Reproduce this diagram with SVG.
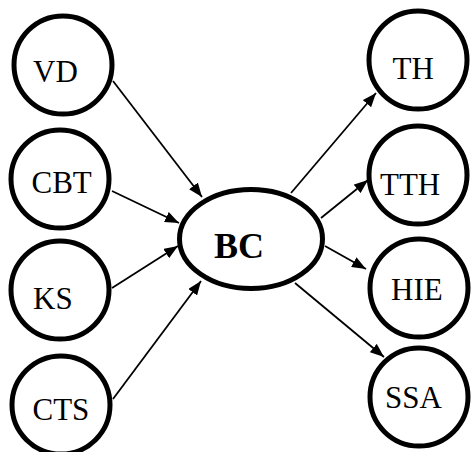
<svg xmlns="http://www.w3.org/2000/svg" width="472" height="452" viewBox="0 0 472 452">
<style>
.node{fill:#fff;stroke:#000;stroke-width:5}
.lbl{font-family:"Liberation Serif","Times New Roman",serif;font-size:31px;fill:#000}
.big{font-family:"Liberation Serif","Times New Roman",serif;font-size:36px;font-weight:bold;fill:#000}
.edge{stroke:#000;stroke-width:1.8;fill:none;marker-end:url(#ah)}
</style>
<defs>
<marker id="ah" markerUnits="userSpaceOnUse" markerWidth="15" markerHeight="11" refX="14" refY="5.5" orient="auto">
<path d="M0,0 L14,5.5 L0,11 z" fill="#000"/>
</marker>
</defs>
<rect width="472" height="452" fill="#fff"/>
<g id="connectors">
<line class="edge" x1="113" y1="81" x2="202" y2="197"/>
<line class="edge" x1="112" y1="191" x2="179" y2="223"/>
<line class="edge" x1="112" y1="288" x2="178" y2="246"/>
<line class="edge" x1="113" y1="399" x2="201" y2="281"/>
<line class="edge" x1="291" y1="193" x2="376" y2="93"/>
<line class="edge" x1="321" y1="218" x2="368" y2="180"/>
<line class="edge" x1="325" y1="246" x2="366" y2="269"/>
<line class="edge" x1="295" y1="283" x2="384" y2="357"/>
</g>
<g id="VD"><circle class="node" cx="63" cy="65" r="49"/><text class="lbl" x="33" y="82">VD</text></g>
<g id="CBT"><circle class="node" cx="60" cy="179" r="49"/><text class="lbl" x="31.5" y="193">CBT</text></g>
<g id="KS"><circle class="node" cx="60" cy="290" r="49"/><text class="lbl" x="33" y="309">KS</text></g>
<g id="CTS"><circle class="node" cx="61" cy="405" r="49"/><text class="lbl" x="32.5" y="420">CTS</text></g>
<g id="BC"><ellipse class="node" cx="251" cy="239" rx="71.5" ry="49.5"/><text class="big" x="214" y="258">BC</text></g>
<g id="TH"><circle class="node" cx="418" cy="60" r="49"/><text class="lbl" x="392.5" y="79">TH</text></g>
<g id="TTH"><circle class="node" cx="418" cy="175" r="49"/><text class="lbl" x="380" y="195">TTH</text></g>
<g id="HIE"><circle class="node" cx="419" cy="288" r="49"/><text class="lbl" x="391" y="300">HIE</text></g>
<g id="SSA"><circle class="node" cx="419" cy="397" r="49"/><text class="lbl" x="385" y="408">SSA</text></g>
</svg>
